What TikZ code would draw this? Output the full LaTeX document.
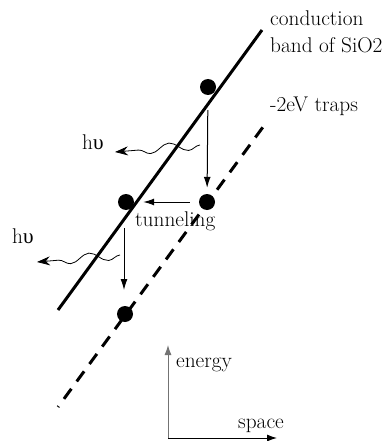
\documentclass[tikz,border=0pt]{standalone}
\usepackage{fontspec}
\newfontfamily\grk{Liberation Serif}
\usetikzlibrary{arrows.meta,decorations.pathmorphing}
\begin{document}
\begin{tikzpicture}[x=1pt,y=-1pt, font=\fontsize{21.3}{26}\selectfont,
  dot/.style={circle,fill=black,inner sep=0pt,minimum size=16pt},
  lbl/.style={anchor=base west,inner sep=0pt},
  arr/.style={line width=1pt,-{Latex[length=11pt,width=7pt]}},
  wave/.style={line width=0.8pt, decorate,
    decoration={snake,amplitude=4.5pt,segment length=38pt,post length=9pt},
    -{Stealth[length=13pt,width=9pt]}},
  band/.style={line width=3pt},
  trap/.style={line width=3pt, dash pattern=on 12.5pt off 9.1pt, dash phase=11.5pt},
  axis/.style={line width=1pt,-{Latex[length=10pt,width=7pt]}}]
\useasboundingbox (0,0) rectangle (385,441);
% bands
\coordinate (cb1) at (58,310);
\coordinate (cb2) at (262,30);
\coordinate (tr1) at (58,407);
\coordinate (tr2) at (263,127);
\draw[band] (cb1) -- (cb2);
\draw[trap] (tr1) -- (tr2);
% electrons
\node[dot] (d1) at (208,87) {};
\node[dot] (d2) at (207,202) {};
\node[dot] (d3) at (126,202) {};
\node[dot] (d4) at (125,314) {};
\draw[arr, shorten <=15pt, shorten >=6pt] (d1) -- (d2);
\draw[arr, shorten <=9pt, shorten >=9pt] (d2) -- (d3);
\coordinate (v1) at (124,228);
\coordinate (v2) at (124,290);
\draw[arr] (v1) -- (v2);
% photons
\coordinate (w1s) at (200,145);
\coordinate (w1e) at (115,152);
\coordinate (w2s) at (120,255);
\coordinate (w2e) at (37,262);
\draw[wave] (w1s) -- (w1e);
\draw[wave] (w2s) -- (w2e);
% labels
\node[lbl] (lc1) at (270,26) {conduction};
\node[lbl] (lc2) at (270,53) {band of SiO2};
\node[lbl] (lt) at (270,111) {-2eV traps};
\node[lbl] (lh1) at (82,149) {h{\grk υ}};
\node[lbl] (lh2) at (12,243) {h{\grk υ}};
\node[lbl] (ltun) at (135,226) {tunneling};
% axes
\coordinate (o) at (168,439);
\coordinate (ey) at (168,345);
\coordinate (sx) at (277,438);
\draw[axis, draw=black!55] (o) -- (ey);
\draw[axis] (168,438) -- (sx);
\node[lbl] (le) at (176,367) {energy};
\node[lbl] (ls) at (238,428) {space};
\end{tikzpicture}
\end{document}
